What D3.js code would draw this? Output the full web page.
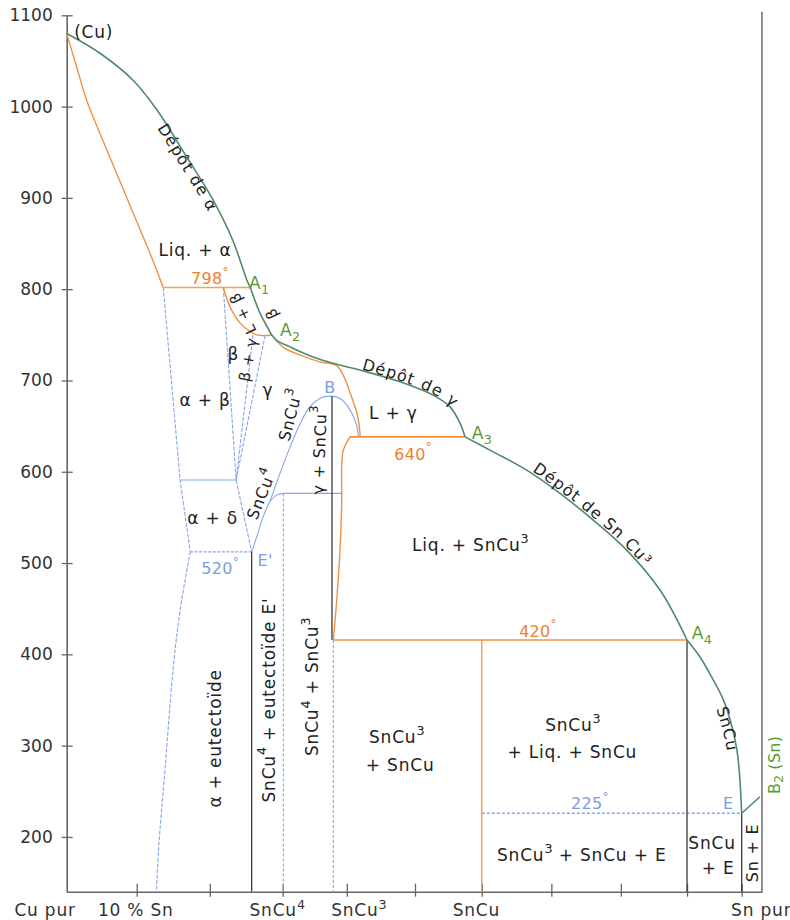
<!DOCTYPE html>
<html><head><meta charset="utf-8">
<script src="https://cdn.jsdelivr.net/npm/d3@7"></script>
<style>body{margin:0;background:#fff}</style>
</head><body>
<svg id="c" width="790" height="920"></svg>
<script>
// ---------- data (composition scale: 0 = Cu pur, 100 = Sn pur ; temperature °C) ----------
const yTicks = [200,300,400,500,600,700,800,900,1000,1100];
const xTicks = [10.37,21.2,32.0,41.5,51.6,61.5,71.8,82.1,91.9,100];
const xLabels = [["Cu pur",-3.2],["10 % Sn",10.24],["SnCu^4",31.2],["SnCu^3",43.3],["SnCu",60.7],["Sn pur",102.9]];

// liquidus (green)
const liqCuA1 = [[0,1080],[4.93,1058.4],[9.83,1028.9],[13.4,996],[17.8,944.5],[21.7,897.5],[24.6,853.6],[26.7,809.8],[27.2,801.9]];
const liqA1A3 = [[27.2,801.9],[28.64,773.7],[29.82,757.3],[30.41,749.6],[31.1,744],[33.09,736.8],[36.49,725.8],[39.45,718.9],[44.44,709.4],[49.38,698.5],[54.27,683.9],[56.79,671.1],[58.27,653.2],[59.01,638.2]];
const liqA3A4 = [[59.01,638.2],[63.2,621.8],[68.15,601.8],[73.08,576.3],[78.0,547.1],[82.96,514.2],[87.9,470.4],[91.9,415.7]];
const liqA4E = [[91.9,415.7],[93.8,397.3],[95.8,371.8],[97.3,349.9],[98.3,328],[99.3,295.1],[99.7,265.9],[100,225.9]];
const liqEB2 = [[100,225.9],[102.7,244]];

// solidus / peritectic lines (orange)
const solAlpha = [[0,1080],[1.48,1043.4],[2.96,1007],[4.93,970.5],[7.41,926.7],[9.88,882.9],[12.35,839.1],[14.3,801.9]];
const peri798 = [[14.3,801.9],[27.2,801.9]];
const solBeta = [[23.2,801.9],[24.2,780.6],[25.7,762.8],[27.2,753.5],[28.3,749.6],[30.41,749.6]];
const solGamma = [[30.41,749.6],[32.0,736.8],[34.6,727.7],[37.5,720.4],[40.0,716.3],[41.0,705.3],[42.0,686],[43.0,664.1],[43.45,642.2],[43.45,638.2]];
const peri640 = [[41.97,638.2],[59.01,638.2]];
const solSnCu3 = [[41.97,638.2],[40.98,623.6],[40.74,605.4],[40.74,568.8],[40.49,514],[40.0,459.3],[39.5,415.7]];
const peri420 = [[39.5,415.7],[91.9,415.7]];
const vertSnCu = [[61.5,415.7],[61.5,140]];

// solid-state boundaries (blue)
const alphaUpper = [[14.3,801.9],[16.8,591],[18.3,512.3]];
const alphaLower = [[18.3,512.3],[16.8,448.5],[15.8,386.4],[14.6,276.9],[13.6,185.8],[13.3,140]];
const betaLeft = [[23.2,801.9],[25.1,591]];
const betaRight = [[27.6,749.6],[25.1,591]];
const gammaLeft = [[29.4,749.6],[25.1,591]];
const eut590 = [[16.8,591],[25.1,591]];
const eutToE = [[25.1,591],[27.4,512.3]];
const eut520 = [[18.3,512.3],[27.4,512.3]];
const deltaCurve = [[27.4,512.3],[28.15,528.7],[29.1,550.6],[30.1,567.1],[31.1,574.4],[32.1,576.3]];
const line575 = [[32.1,576.3],[40.74,576.3]];
const dome = [[30.1,567.1],[31.6,598.2],[33.1,627.3],[34.6,652.9],[36.0,671.1],[37.5,680.3],[39.0,682.8],[40.5,680.3],[42.0,667.5],[43.0,649.2],[43.2,638.2]];
const vertSnCu4 = [[32.1,576.3],[32.1,140]];
const vertSnCu3 = [[39.5,415.7],[39.5,140]];
const eut225 = [[61.5,225.9],[100,225.9]];

// black verticals
const vertE1 = [[27.4,512.3],[27.4,140]];
const vertB = [[39.3,682.8],[39.3,415.7]];
const vertA4 = [[91.9,415.7],[91.9,140]];
const vertE = [[100,225.9],[100,140]];
const frameRight = [[103,1104],[103,140]];

// labels written along the liquidus: [text, curve id, point on curve (comp, temp), offset]
const curveLabels = [
 ["Dépôt de α","liq1",18.6,936,4],
 ["Dépôt","liq2",47.2,697.5,-7],
 ["de γ","liq2",54.8,681,-7],
 ["Dépôt de Sn Cu³","liq3",77.5,550,-8],
 ["SnCu","liq4",98.4,319,4]
];
// annotations: [text, composition, temperature, rotation, colour key, size]
const labels = [
 ["(Cu)",4.0,1082,0,"k",17],
 ["Liq. + α",19.0,842.6,0,"k",17],
 ["798^°",21.2,811.7,0,"o",16],
 ["A_1",28.5,806.3,0,"g",17],
 ["L + β",26.1,773.8,-115,"k",15],
 ["β",30.4,773.5,-115,"k",15],
 ["A_2",33.1,755.2,0,"g",17],
 ["β",24.7,729.5,0,"k",17],
 ["β + γ",26.9,723,-79,"k",15],
 ["γ",29.8,689.4,0,"k",17],
 ["α + β",20.5,678.4,0,"k",17],
 ["SnCu^3",33.1,662,-75.5,"k",16],
 ["B",39.0,692.3,0,"b",16],
 ["γ + SnCu^3",37.4,623.7,-88,"k",16],
 ["L + γ",48.4,664,0,"k",17],
 ["640^°",51.3,620,0,"o",16],
 ["A_3",61.5,642,0,"g",17],
 ["Liq. + SnCu^3",59.8,519.6,0,"k",17],
 ["α + δ",21.6,549,0,"k",17],
 ["SnCu^4",28.8,575.5,-68,"k",16],
 ["520^°",22.7,494.1,0,"b",16],
 ["E'",29.4,503,0,"b",16],
 ["420^°",69.8,425.8,0,"o",16],
 ["A_4",94.1,423.3,0,"g",17],
 ["α + eutectoïde",22.0,308,-90,"k",17],
 ["SnCu^4 + eutectoïde E'",29.9,350,-90,"k",17],
 ["SnCu^4 + SnCu^3",36.3,364.5,-90,"k",17],
 ["SnCu^3",48.9,309,0,"k",17],
 ["+ SnCu",49.4,278.7,0,"k",17],
 ["SnCu^3",75.0,322.6,0,"k",17],
 ["+ Liq. + SnCu",74.9,293,0,"k",17],
 ["B_2 (Sn)",104.8,279,-90,"g",16],
 ["225^°",77.5,236.8,0,"b",16],
 ["E",98.0,236.8,0,"b",16],
 ["SnCu^3 + SnCu + E",76.3,180.4,0,"k",17],
 ["SnCu",95.6,193.5,0,"k",17],
 ["+ E",96.5,166,0,"k",17],
 ["Sn + E",101.5,182.5,-90,"k",16]
];

// ---------- drawing ----------
const COL = {g:"#4f8a6c", gl:"#5b9a34", o:"#f39040", b:"#86a5ea", bl:"#7b9ce2", k:"#3a3a3a", t:"#222"};
const svg = d3.select("#c");
svg.append("rect").attr("width",790).attr("height",920).attr("fill","#fff");
const x = d3.scaleLinear().domain([0,103]).range([66.7,761.95]);
const y = d3.scaleLinear().domain([140,1100]).range([891.7,15.3]);
const FONT = "DejaVu Sans, sans-serif";

const straight = d3.line().x(d=>x(d[0])).y(d=>y(d[1]));
const smooth = d3.line().x(d=>x(d[0])).y(d=>y(d[1])).curve(d3.curveCatmullRom.alpha(0.5));
function draw(pts, color, w, curved, dash, id){
  const p = svg.append("path").attr("d",(curved?smooth:straight)(pts))
    .attr("fill","none").attr("stroke",color).attr("stroke-width",w)
    .attr("stroke-linejoin","round");
  if(dash) p.attr("stroke-dasharray",dash);
  if(id) p.attr("id",id);
  return p;
}

// axes
const xa = svg.append("g").attr("transform",`translate(0,${y(140)})`)
  .call(d3.axisBottom(x).tickValues(xTicks).tickFormat("").tickSizeOuter(0));
const ya = svg.append("g").attr("transform",`translate(${x(0)},0)`)
  .call(d3.axisLeft(y).tickValues(yTicks).tickFormat(d3.format("d")).tickSizeOuter(0));
[xa,ya].forEach(a=>{a.select(".domain").attr("stroke","#666").attr("stroke-width",1.6);
  a.selectAll(".tick line").attr("stroke","#666").attr("stroke-width",1.3);});
xa.selectAll(".tick line").attr("y1",-8).attr("y2",5);
ya.selectAll(".tick line").attr("x1",6).attr("x2",-5);
ya.selectAll(".tick text").attr("x",-14).attr("font-family",FONT).attr("font-size",17).attr("fill","#333");

// blue
[alphaUpper,betaLeft,betaRight,gammaLeft,eutToE].forEach(p=>draw(p,COL.b,1.1,false,"4,1.5"));
draw(alphaLower,COL.b,1.1,true,"4,1.5");
[eut590,line575].forEach(p=>draw(p,COL.b,1.2,false));
draw(eut520,COL.b,1.3,false,"3,1.5");
draw(deltaCurve,COL.b,1.1,true);
draw(dome,COL.b,1.1,true);
[vertSnCu4,vertSnCu3].forEach(p=>draw(p,COL.b,1.1,false,"3,2"));
draw(eut225,COL.b,1.4,false,"3,2");

// black
[vertE1,vertB,vertA4,vertE].forEach(p=>draw(p,COL.k,1.3,false));
draw(frameRight,"#555",1.3,false);

// orange
draw(solAlpha,COL.o,1.4,true);
draw(peri798,"#f5a33a",1.6,false);
draw(solBeta,COL.o,1.4,true);
draw(solGamma,COL.o,1.4,true);
draw(solSnCu3,COL.o,1.4,true);
[peri640,peri420].forEach(p=>draw(p,COL.o,1.6,false));
draw(vertSnCu,COL.o,1.3,false);

// green liquidus
const liqPaths = {};
[["liq1",liqCuA1],["liq2",liqA1A3],["liq3",liqA3A4],["liq4",liqA4E]].forEach(([id,p])=>{
  liqPaths[id]=draw(p,COL.g,1.6,true,null,id);
});
draw(liqEB2,COL.g,1.6,false);

// rich text helper: ^x superscript, _x subscript
function rich(t, str, size, base){
  base = base||0;
  const parts=[]; let buf="", i=0;
  while(i<str.length){const c=str[i];
    if((c==="^"||c==="_")&&i+1<str.length){ if(buf)parts.push([buf,0]); buf=""; parts.push([str[i+1],c==="^"?1:-1]); i+=2; }
    else {buf+=c;i++;}}
  if(buf)parts.push([buf,0]);
  let cur=0;
  parts.forEach(([s,k])=>{
    const tgt = base + (k===1 ? -size*0.42 : (k===-1 ? size*0.32 : 0));
    const ts=t.append("tspan").text(s).attr("dy",tgt-cur);
    if(k!==0) ts.attr("font-size",size*0.75).attr("letter-spacing",0);
    cur=tgt;
  });
}
const tcol = {k:COL.t, g:COL.gl, o:"#f07e2e", b:COL.bl};
labels.forEach(([s,cx,ct,rot,c,size])=>{
  const px=x(cx), py=y(ct);
  const t=svg.append("text").attr("font-family",FONT).attr("font-size",size)
    .attr("fill",tcol[c]).attr("text-anchor","middle").attr("dominant-baseline","central")
    .attr("letter-spacing",c==="k"?0.8:0.3)
    .attr("transform",`translate(${px},${py}) rotate(${rot})`);
  rich(t,s,size);
});
// text following the liquidus
curveLabels.forEach(([s,id,cx,ct,off])=>{
  const node = liqPaths[id].node(), L = node.getTotalLength();
  const tx=x(cx), ty=y(ct);
  let best=0, bd=1e9;
  for(let l=0;l<=L;l+=0.5){const p=node.getPointAtLength(l); const d=(p.x-tx)**2+(p.y-ty)**2; if(d<bd){bd=d;best=l;}}
  const t=svg.append("text").attr("font-family",FONT).attr("font-size",16).attr("fill",COL.t)
    .attr("letter-spacing",1.1).attr("dominant-baseline","central");
  const tp=t.append("textPath").attr("href","#"+id).attr("startOffset",best).attr("text-anchor","middle");
  rich(tp,s,16,off);
});
xLabels.forEach(([s,cx])=>{
  const t=svg.append("text").attr("font-family",FONT).attr("font-size",17).attr("fill","#333")
    .attr("letter-spacing",0.8).attr("text-anchor","middle").attr("x",x(cx)).attr("y",y(140)+24);
  rich(t,s,17);
});
</script>
</body></html>
